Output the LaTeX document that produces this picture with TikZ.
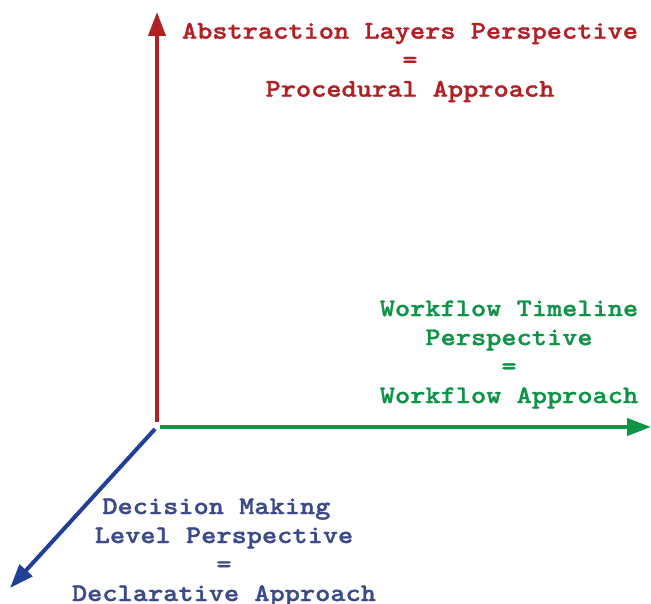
\documentclass[tikz,border=0pt]{standalone}
\usepackage{fontspec}
\newfontfamily\labelfont{lmmonolt10-bold.otf}[FakeStretch=1.14,FakeBold=1.2]
\usetikzlibrary{arrows.meta}
\definecolor{axisred}{HTML}{B21F24}
\definecolor{axisgreen}{HTML}{0E9447}
\definecolor{axisblue}{HTML}{213E98}
\definecolor{labelblue}{HTML}{3C4B88}
\tikzset{
  axis/.style={line width=4pt, -{Triangle[length=24pt,width=17pt]}},
  label/.style={font=\labelfont\fontsize{25.4}{29}\selectfont, align=center, inner sep=0pt}
}
\begin{document}
\begin{tikzpicture}[x=1pt,y=-1pt]
  \useasboundingbox (0,0) rectangle (651,604);
  % axis end points
  \coordinate (redstart) at (157,422);
  \coordinate (redtip) at (157,12);
  \coordinate (greenstart) at (160,427);
  \coordinate (greentip) at (651,427);
  \coordinate (bluestart) at (155,429);
  \coordinate (bluetip) at (10,588);
  \draw[axis, axisred] (redstart) -- (redtip);
  \draw[axis, axisgreen] (greenstart) -- (greentip);
  \draw[axis, axisblue] (bluestart) -- (bluetip);
  % axis captions
  \node[label, text=axisred] (abstraction) at (410,62.5)
    {Abstraction Layers Perspective\\=\\Procedural Approach};
  \node[label, text=axisgreen] (workflow) at (509,354.5)
    {Workflow Timeline\\Perspective\\=\\Workflow Approach};
  \node[label, text=labelblue] (decision) at (224,552.5)
    {Decision Making\phantom{x}\\Level Perspective\\=\\Declarative Approach};
\end{tikzpicture}
\end{document}
